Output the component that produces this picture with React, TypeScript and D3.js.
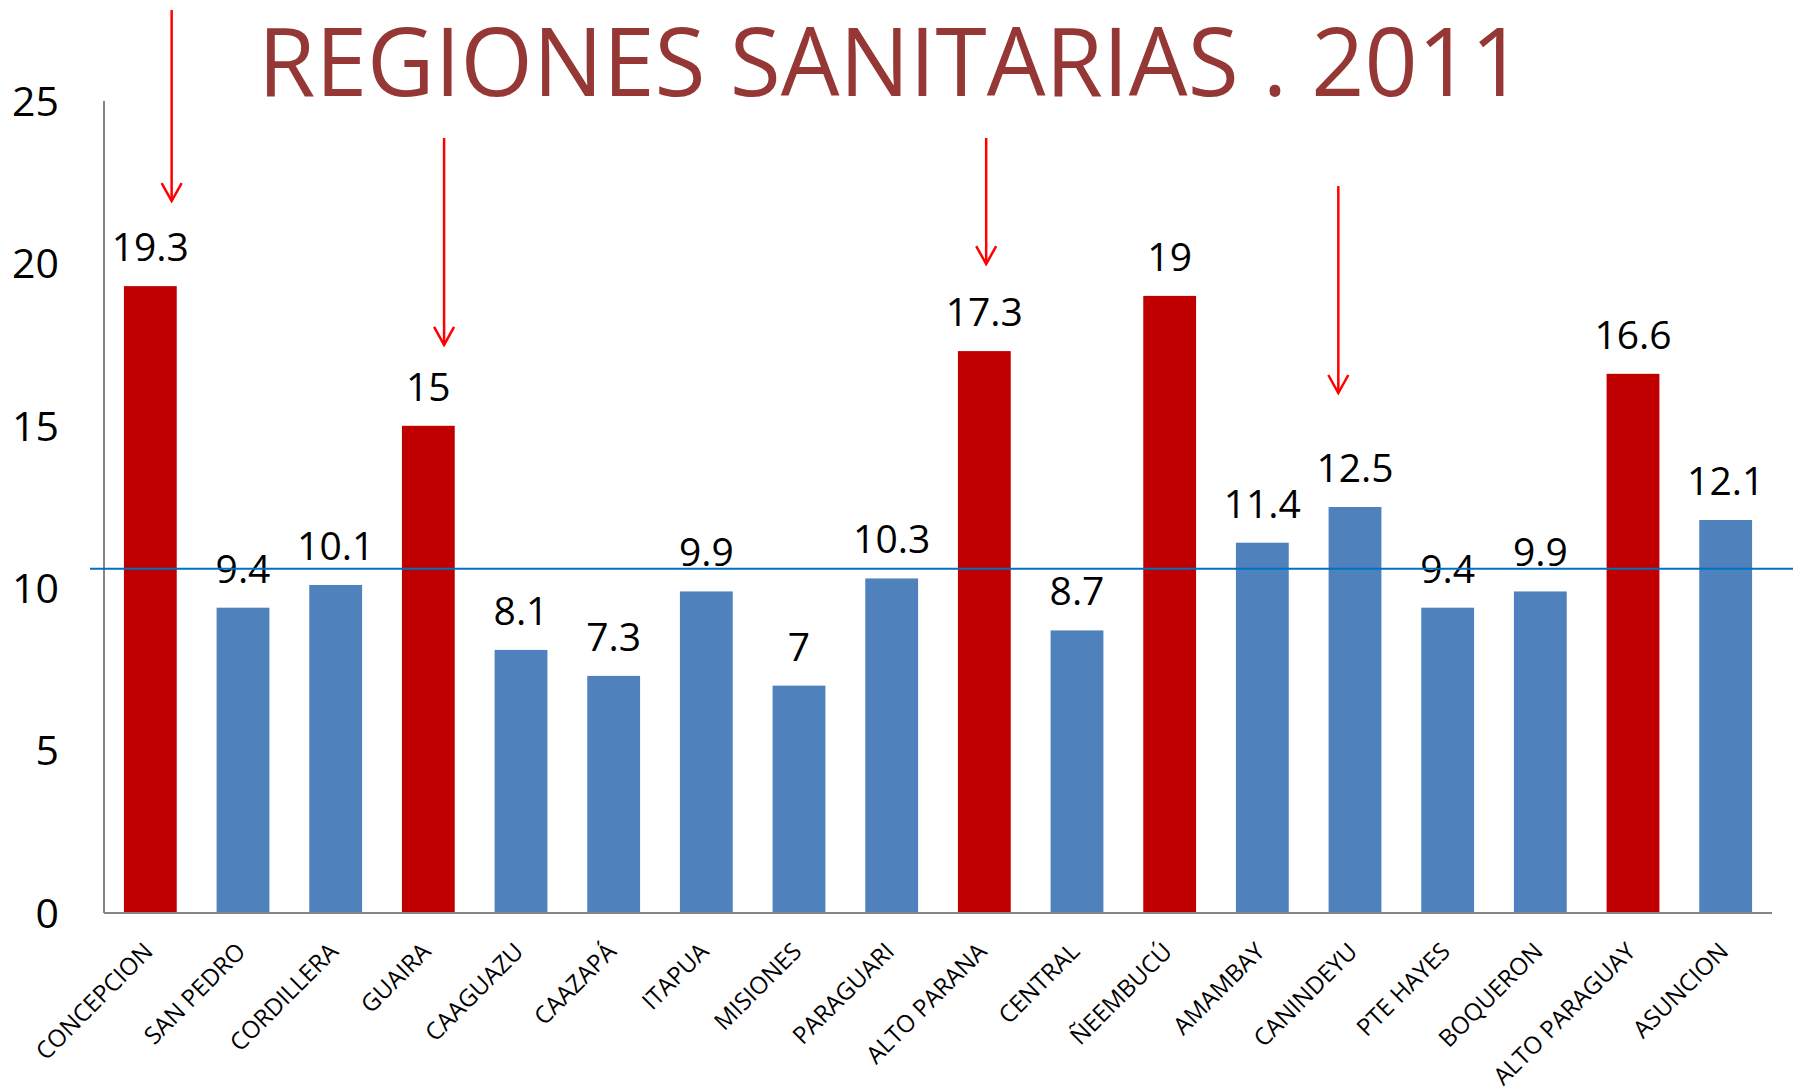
import React, { useEffect, useRef } from 'react';
import * as d3 from 'd3';

const regions = [
  'CONCEPCION', 'SAN PEDRO', 'CORDILLERA', 'GUAIRA', 'CAAGUAZU', 'CAAZAPÁ',
  'ITAPUA', 'MISIONES', 'PARAGUARI', 'ALTO PARANA', 'CENTRAL', 'ÑEEMBUCÚ',
  'AMAMBAY', 'CANINDEYU', 'PTE HAYES', 'BOQUERON', 'ALTO PARAGUAY', 'ASUNCION',
];
const rates = [19.3, 9.4, 10.1, 15, 8.1, 7.3, 9.9, 7, 10.3, 17.3, 8.7, 19, 11.4, 12.5, 9.4, 9.9, 16.6, 12.1];
const highlighted = ['CONCEPCION', 'GUAIRA', 'ALTO PARANA', 'ÑEEMBUCÚ', 'ALTO PARAGUAY'];
const yTicks = [0, 5, 10, 15, 20, 25];
const referenceLevel = 10.6;

// arrows: region they point at, start and tip in data units
const arrowRegions = ['CONCEPCION', 'GUAIRA', 'ALTO PARANA', 'CANINDEYU'];
const arrowTop = [27.8, 23.86, 23.86, 22.38];
const arrowTip = [21.92, 17.49, 19.98, 16.01];
const arrowShift = [0.23, 0.17, 0.02, -0.18]; // fraction of a band step

const W = 1793;
const H = 1091;
const FONT = '"Open Sans", "DejaVu Sans", sans-serif';

const App: React.FC = () => {
  const svgRef = useRef<SVGSVGElement>(null);

  useEffect(() => {
    document.body.style.margin = '0';
    if (!svgRef.current) return;
    const svg = d3.select(svgRef.current);
    svg.selectAll('*').remove();

    const left = 104;
    const right = 1772;
    const top = 101;
    const bottom = 913;

    const x = d3.scaleBand<string>().domain(regions).range([left, right]).paddingInner(0.43).paddingOuter(0.215);
    const y = d3.scaleLinear().domain([0, 25]).range([bottom, top]);

    // title
    svg.append('text')
      .attr('x', 258)
      .attr('y', 96)
      .attr('textLength', 1266)
      .attr('lengthAdjust', 'spacingAndGlyphs')
      .style('font-family', FONT)
      .style('font-size', '95px')
      .style('fill', '#953735')
      .text('REGIONES SANITARIAS . 2011');

    // bars
    svg.append('g')
      .selectAll('rect')
      .data(regions)
      .join('rect')
      .attr('x', (d) => x(d)!)
      .attr('width', x.bandwidth())
      .attr('y', (_, i) => y(rates[i]))
      .attr('height', (_, i) => y(0) - y(rates[i]))
      .style('fill', (d) => (highlighted.includes(d) ? '#c00000' : '#4f81bd'));

    // axes
    svg.append('line')
      .attr('x1', left).attr('x2', left).attr('y1', y(25)).attr('y2', y(0))
      .style('stroke', '#868686').style('stroke-width', 2);
    svg.append('line')
      .attr('x1', left).attr('x2', right).attr('y1', y(0)).attr('y2', y(0))
      .style('stroke', '#868686').style('stroke-width', 2);

    // y tick labels
    svg.append('g')
      .selectAll('text')
      .data(yTicks)
      .join('text')
      .attr('x', 59)
      .attr('y', (d) => y(d))
      .attr('dy', '0.36em')
      .attr('text-anchor', 'end')
      .style('font-family', FONT)
      .style('font-size', '41px')
      .style('fill', '#000')
      .text((d) => d);

    // x labels, rotated
    svg.append('g')
      .selectAll('text')
      .data(regions)
      .join('text')
      .attr('transform', (d) => `translate(${x(d)! + x.bandwidth() / 2 + 4},${bottom + 40}) rotate(-45)`)
      .attr('text-anchor', 'end')
      .style('font-family', FONT)
      .style('font-size', '24px')
      .style('fill', '#000')
      .text((d) => d);

    // value labels
    svg.append('g')
      .selectAll('text')
      .data(regions)
      .join('text')
      .attr('x', (d) => x(d)! + x.bandwidth() / 2)
      .attr('y', (_, i) => y(rates[i]) - 25)
      .attr('text-anchor', 'middle')
      .style('font-family', FONT)
      .style('font-size', '39px')
      .style('fill', '#000')
      .text((_, i) => rates[i]);

    // reference line
    svg.append('line')
      .attr('x1', 90).attr('x2', W).attr('y1', y(referenceLevel)).attr('y2', y(referenceLevel))
      .style('stroke', '#0070c0').style('stroke-width', 2);

    // red arrows
    const ag = svg.append('g').style('stroke', '#ff0000').style('stroke-width', 2.5).style('fill', 'none');
    arrowRegions.forEach((r, i) => {
      const cx = x(r)! + x.bandwidth() / 2 + arrowShift[i] * x.step();
      const y0 = y(arrowTop[i]);
      const y1 = y(arrowTip[i]);
      ag.append('line').attr('x1', cx).attr('x2', cx).attr('y1', y0).attr('y2', y1);
      ag.append('path').attr('d', `M${cx - 10},${y1 - 18}L${cx},${y1}L${cx + 10},${y1 - 18}`);
    });
  }, []);

  return <svg ref={svgRef} width={W} height={H} style={{ display: 'block', background: '#fff' }} />;
};

export default App;
